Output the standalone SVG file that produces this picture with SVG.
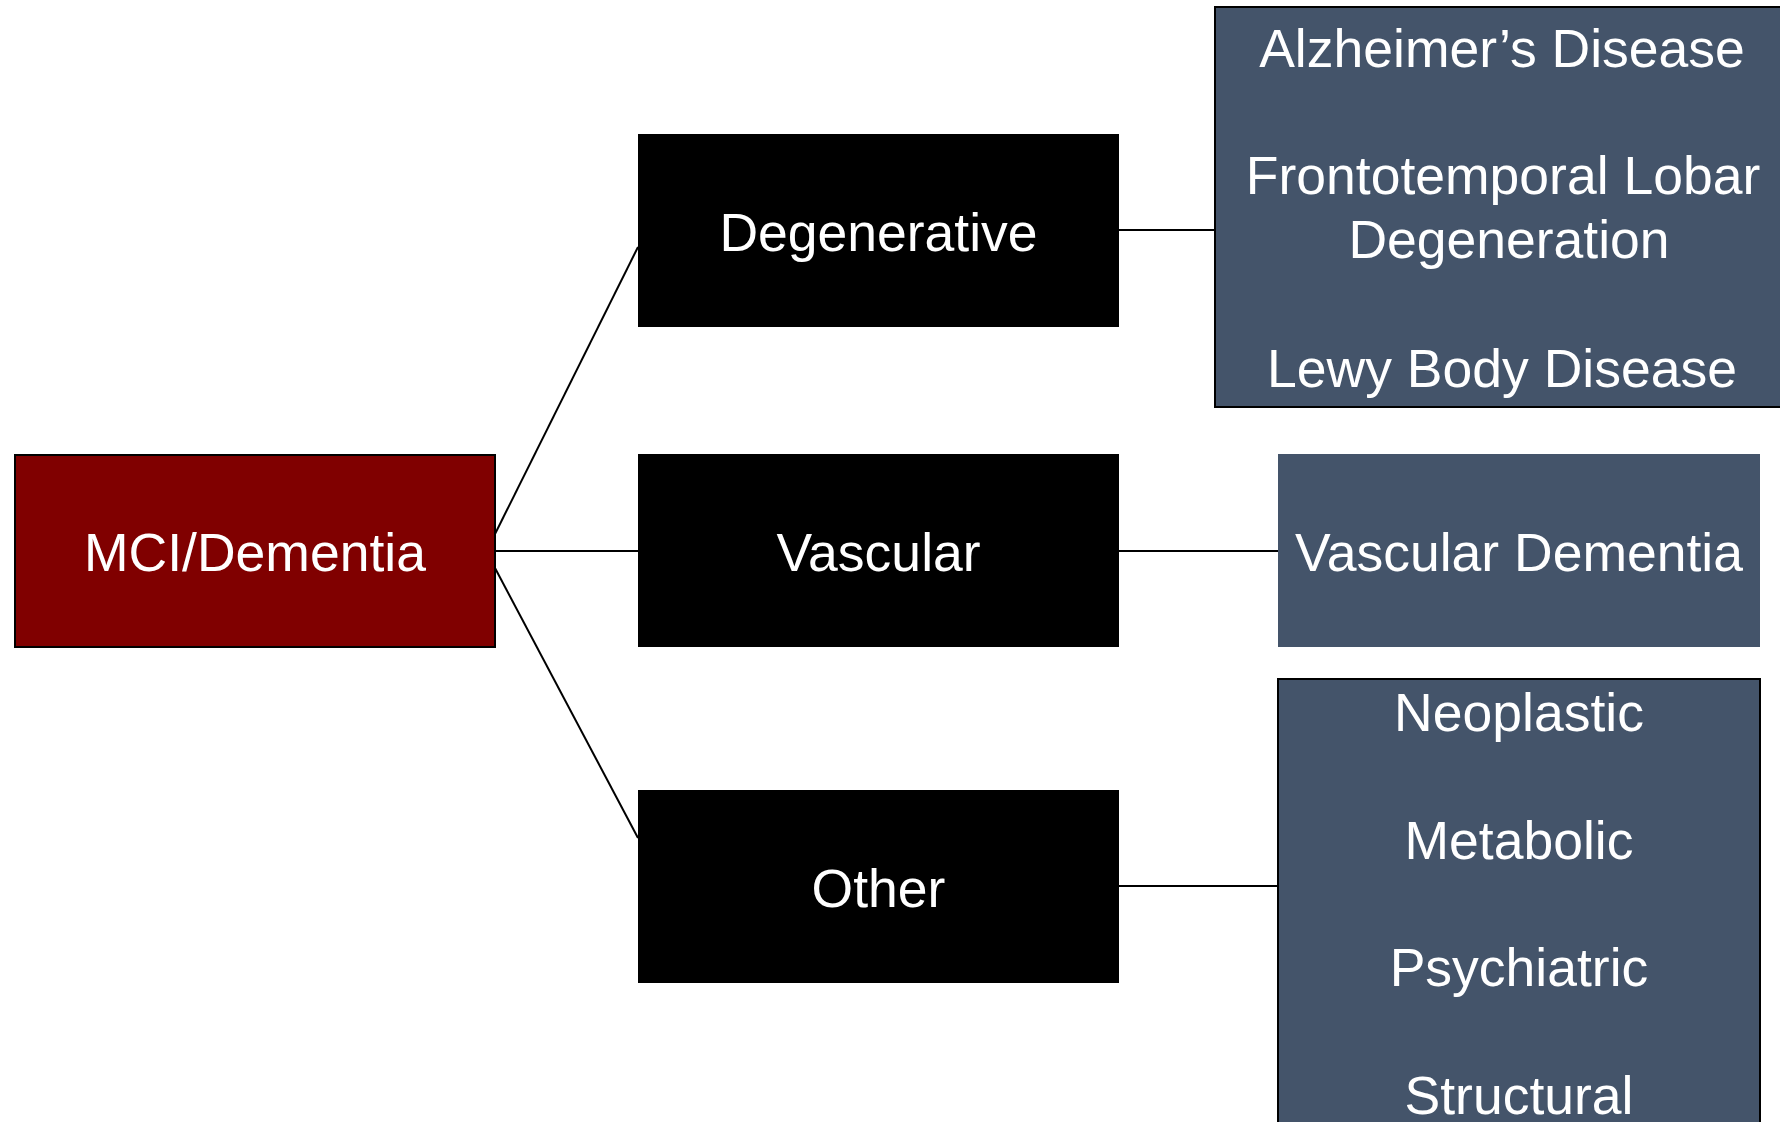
<svg xmlns="http://www.w3.org/2000/svg" width="1780" height="1122" viewBox="0 0 1780 1122">
<style>
text{font-family:"Liberation Sans",Arial,sans-serif;font-size:53.5px;fill:#ffffff;text-anchor:middle}
.con{stroke:#000;stroke-width:2;fill:none}
.root{fill:#800000;stroke:#000;stroke-width:2}
.mid{fill:#000}
.leaf{fill:#44546A;stroke:#000;stroke-width:2}
.leafnb{fill:#44546A}
</style>
<rect width="1780" height="1122" fill="#fff"/>
<g id="connectors">
<line class="con" x1="495" y1="534" x2="638" y2="247"/>
<line class="con" x1="495" y1="551" x2="638" y2="551"/>
<line class="con" x1="495" y1="568" x2="638" y2="838"/>
<line class="con" x1="1119" y1="230" x2="1215" y2="230"/>
<line class="con" x1="1119" y1="551" x2="1278" y2="551"/>
<line class="con" x1="1119" y1="886" x2="1278" y2="886"/>
</g>
<g id="mci">
<rect class="root" x="15" y="455" width="480" height="192"/>
<text x="255" y="571">MCI/Dementia</text>
</g>
<g id="degenerative">
<rect class="mid" x="638" y="134" width="481" height="193"/>
<text x="878.5" y="251">Degenerative</text>
</g>
<g id="vascular">
<rect class="mid" x="638" y="454" width="481" height="193"/>
<text x="878.5" y="571">Vascular</text>
</g>
<g id="other">
<rect class="mid" x="638" y="790" width="481" height="193"/>
<text x="878.5" y="907">Other</text>
</g>
<g id="degenerative-types">
<rect class="leaf" x="1215" y="7" width="580" height="400"/>
<text x="1502" y="67">Alzheimer’s Disease</text>
<text x="1503" y="194">Frontotemporal Lobar</text>
<text x="1509" y="258">Degeneration</text>
<text x="1502" y="387">Lewy Body Disease</text>
</g>
<g id="vascular-dementia">
<rect class="leafnb" x="1278" y="454" width="482" height="193"/>
<text x="1519" y="571">Vascular Dementia</text>
</g>
<g id="other-types">
<rect class="leaf" x="1278" y="679" width="482" height="460"/>
<text x="1519" y="731">Neoplastic</text>
<text x="1519" y="859">Metabolic</text>
<text x="1519" y="986">Psychiatric</text>
<text x="1519" y="1114">Structural</text>
</g>
</svg>
